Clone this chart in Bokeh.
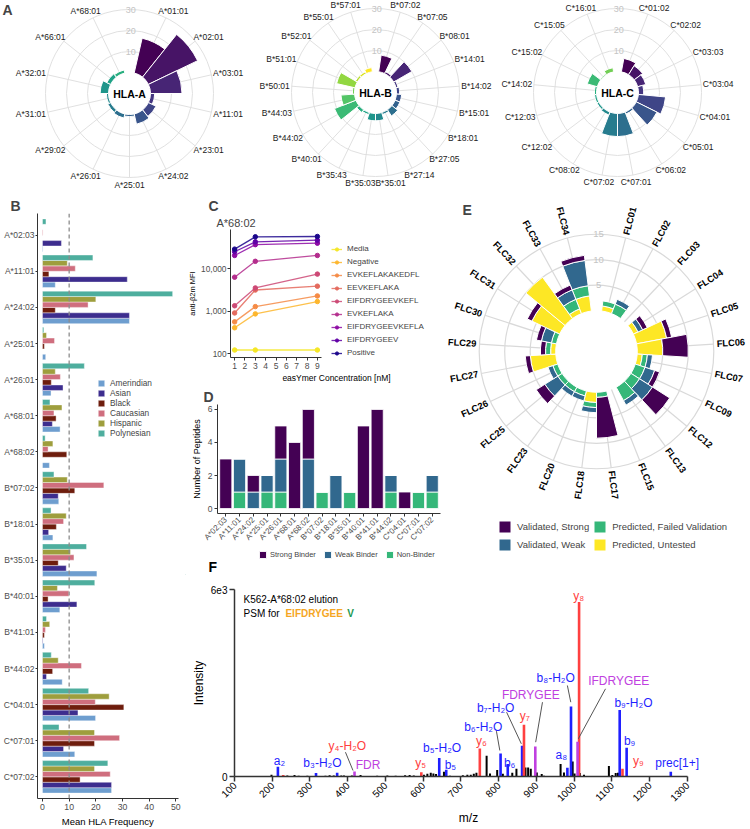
import math
from bokeh.plotting import figure
from bokeh.layouts import row, column
from bokeh.models import (Range1d, Label, Span, Legend, LegendItem, FixedTicker, Title,
                          NumeralTickFormatter, ColumnDataSource)
from bokeh.embed import file_html
from bokeh.resources import INLINE
from bokeh.core.properties import value
from bokeh.palettes import viridis, Plasma256

FONT = "Liberation Sans"

# ---------------- Panel A data ----------------
hla_a_alleles = ["A*01:01", "A*02:01", "A*03:01", "A*11:01", "A*23:01", "A*24:02", "A*25:01",
                 "A*26:01", "A*29:02", "A*31:01", "A*32:01", "A*66:01", "A*68:01"]
hla_a_freq = [17, 26, 15, 2, 4, 5, 1, 2, 1.5, 1, 4, 2, 1.5]
hla_b_alleles = ["B*07:02", "B*07:05", "B*08:01", "B*14:01", "B*14:02", "B*15:01", "B*18:01",
                 "B*27:05", "B*27:14", "B*35:01", "B*35:03", "B*35:43", "B*40:01", "B*44:02",
                 "B*44:03", "B*50:01", "B*51:01", "B*52:01", "B*55:01", "B*57:01"]
hla_b_freq = [8, 1, 10, 1, 1.5, 2.5, 2.5, 3.5, 1, 3.5, 3.5, 1, 1.5, 11, 6.5, 1, 9, 1, 1, 2]
hla_c_alleles = ["C*01:02", "C*02:02", "C*03:03", "C*03:04", "C*04:01", "C*05:01", "C*06:02",
                 "C*07:01", "C*07:02", "C*08:02", "C*12:02", "C*12:03", "C*14:02", "C*15:02",
                 "C*15:05", "C*16:01"]
hla_c_freq = [6.5, 5, 4, 2.5, 13, 11, 1, 11, 11, 1.5, 1, 1, 1, 5, 0.5, 2]
a_ring_values = [10, 20, 30]

# ---------------- Panel B data ----------------
b_alleles = ["A*02:03", "A*11:01", "A*24:02", "A*25:01", "A*26:01", "A*68:01", "A*68:02",
             "B*07:02", "B*18:01", "B*35:01", "B*40:01", "B*41:01", "B*44:02", "C*04:01",
             "C*07:01", "C*07:02"]
b_amerindian = [0.2, 4.8, 32.6, 1.2, 3.2, 6.6, 2.6, 6.1, 3.9, 20.4, 6.5, 0.7, 7.4, 19.9, 12.1, 25.9]
b_asian = [7.1, 31.8, 32.6, 0.0, 7.7, 3.7, 0.0, 5.9, 2.3, 8.9, 12.9, 0.2, 1.5, 13.3, 7.9, 25.9]
b_black = [0.0, 2.4, 4.8, 0.7, 3.3, 5.1, 9.1, 12.1, 5.2, 5.9, 2.1, 0.7, 3.8, 30.5, 19.5, 14.1]
b_caucasian = [0.2, 12.3, 17.1, 4.5, 6.7, 4.3, 2.1, 23.0, 7.9, 11.8, 9.9, 1.1, 14.6, 19.8, 28.9, 25.4]
b_hispanic = [0.0, 9.3, 20.0, 1.5, 4.8, 7.3, 3.9, 9.3, 8.9, 10.5, 5.6, 2.7, 5.9, 25.0, 19.5, 19.5]
b_polynesian = [1.3, 18.9, 48.8, 0.5, 15.7, 2.8, 1.0, 4.3, 3.2, 16.5, 19.6, 1.5, 3.3, 17.3, 6.2, 24.5]
b_populations = ["Amerindian", "Asian", "Black", "Caucasian", "Hispanic", "Polynesian"]
b_colors = ["#6699CC", "#332288", "#661100", "#CC6677", "#999933", "#44AA99"]
b_threshold = 10
b_xticks = [0, 10, 20, 30, 40, 50]

# ---------------- Panel C data ----------------
c_conc = [1, 3, 9]
c_series = ["Media", "Negative", "EVKEFLAKAKEDFL", "EEVKEFLAKA", "EIFDRYGEEVKEFL",
            "EVKEFLAKA", "EIFDRYGEEVKEFLA", "EIFDRYGEEV", "Positive"]
c_media = [123, 123, 123]
c_negative = [410, 870, 1700]
c_evkeflakakedfl = [565, 1290, 2300]
c_eevkeflaka = [915, 3170, 3900]
c_eifdrygeevkefl = [1350, 3540, 7500]
c_evkeflaka = [6350, 15000, 20600]
c_eifdrygeevkefla = [20600, 37000, 40000]
c_eifdrygeev = [25200, 43000, 47000]
c_positive = [29000, 56500, 57500]
c_values = [c_media, c_negative, c_evkeflakakedfl, c_eevkeflaka, c_eifdrygeevkefl,
            c_evkeflaka, c_eifdrygeevkefla, c_eifdrygeev, c_positive]

# ---------------- Panel D data ----------------
d_alleles = b_alleles
d_non_binder = [0, 1, 0, 1, 1, 0, 0, 1, 0, 1, 0, 0, 1, 0, 1, 1]
d_weak_binder = [0, 2, 1, 1, 2, 0, 3, 0, 2, 0, 0, 0, 1, 0, 0, 1]
d_strong_binder = [3, 0, 1, 0, 2, 4, 3, 0, 0, 0, 5, 6, 0, 1, 0, 0]

# ---------------- Panel E data ----------------
e_flc = ["FLC01", "FLC02", "FLC03", "FLC04", "FLC05", "FLC06", "FLC07", "FLC09", "FLC12",
         "FLC13", "FLC15", "FLC17", "FLC18", "FLC20", "FLC23", "FLC25", "FLC26", "FLC27",
         "FLC29", "FLC30", "FLC31", "FLC32", "FLC33", "FLC34"]
e_pred_untested = [1, 0, 0, 1, 6, 5, 1, 0, 0, 0, 0, 0, 2, 0, 0, 0, 0, 5, 1, 0, 6, 10, 1, 3]
e_pred_failed = [1, 2, 0, 0, 0, 0, 1, 2, 2, 3, 0, 1, 1, 1, 1, 1, 1, 0, 1, 1, 0, 0, 2, 2]
e_val_weak = [0, 1, 0, 1, 0, 0, 1, 2, 3, 1, 0, 0, 1, 1, 1, 3, 1, 0, 0, 2, 0, 0, 2, 5]
e_val_strong = [0, 0, 0, 1, 1, 5, 0, 1, 4, 0, 0, 8, 0, 0, 0, 2, 0, 1, 1, 1, 1, 0, 1, 1]
e_ring_values = [5, 10, 15]

# ---------------- Panel F data ----------------
f_noise_mz = [198, 240, 259, 270, 293, 319, 341, 352, 363, 383, 390, 399, 411, 434, 452, 478,
              505, 527, 552, 564, 575, 602, 611, 620, 627, 634, 655, 671, 690, 705, 717, 726,
              734, 741, 768, 777, 796, 811, 836, 847, 871, 878, 885, 901, 914, 920, 964, 973,
              996, 1001, 1015, 1026, 1079, 1092, 1101, 1110, 1116, 1185, 1238]
f_noise_int = [55, 30, 45, 25, 25, 20, 25, 40, 30, 35, 30, 20, 35, 45, 20, 25, 35, 25, 40, 45,
               30, 55, 90, 120, 95, 80, 150, 25, 20, 40, 55, 60, 90, 120, 665, 95, 210, 85, 120,
               250, 290, 290, 250, 130, 80, 25, 400, 130, 480, 100, 110, 60, 20, 340, 50, 110,
               120, 15, 15]
f_ion_mz = [215, 229, 316, 372, 418, 595, 642.5, 661, 750, 805, 824, 862, 867, 897, 982, 991.6,
            1013, 1009, 1120.6, 1139, 1128, 1256]
f_ion_int = [310, 50, 110, 120, 160, 140, 590, 215, 900, 740, 400, 990, 1660, 965, 280, 2250,
             5600, 1115, 2135, 920, 250, 150]
f_ion_type = ["b", "y", "b", "b", "i", "y", "b", "b", "y", "b", "b", "b", "y", "i", "b", "b",
              "y", "i", "b", "b", "y", "b"]
f_ann_text = ["a₂", "b₃-H₂O", "y₄-H₂O", "FDR", "y₅", "b₅-H₂O", "b₅", "y₆", "b₆-H₂O", "b₆",
              "b₇-H₂O", "y₇", "FDRYGEE", "a₈", "b₈-H₂O", "y₈", "IFDRYGEE", "b₉-H₂O", "b₉", "y₉",
              "prec[1+]"]
f_ann_mz = [219, 333, 399, 454, 593, 650, 672, 754, 759, 829, 792, 869, 885, 966, 951, 1012,
            1118, 1157, 1147, 1170, 1273]
f_ann_int = [490, 427, 972, 385, 427, 908, 353, 1123, 1604, 427, 2192, 1935, 2599, 674, 3145,
             5776, 3058, 2352, 1133, 513, 427]
f_ann_type = ["b", "b", "y", "i", "y", "b", "b", "y", "b", "b", "b", "y", "i", "b", "b", "y",
              "i", "b", "b", "y", "b"]
f_lead_mz0 = [394, 794, 821, 916, 982, 1083]
f_lead_int0 = [780, 1454, 2063, 2384, 2920, 2814]
f_lead_mz1 = [414, 803, 860, 898, 991, 1011]
f_lead_int1 = [193, 834, 1049, 1101, 2384, 1210]
f_xticks = list(range(100, 1301, 100))
ion_colors = {"b": "#1F1FFF", "y": "#FF4040", "i": "#C040E0"}

VIR = viridis(20)
STRONG, WEAK, FAILED, UNTESTED = "#440154", "#31688E", "#35B779", "#FDE725"


def text_w(s, fs):
    w = 0.0
    for ch in s:
        if ch.isdigit():
            w += 0.556
        elif ch in ":,.":
            w += 0.278
        elif ch == "*":
            w += 0.389
        elif ch == "-":
            w += 0.333
        else:
            w += 0.667
    return w * fs


def bare_fig(W, H, xr, yr):
    p = figure(width=W, height=H, x_range=xr, y_range=yr, output_backend="svg",
               toolbar_location=None, x_axis_location=None, y_axis_location=None,
               min_border=0, frame_align=False, title=None)
    p.grid.visible = False
    p.outline_line_color = None
    return p


def polar_fig(W, H, cx, cy, S):
    return bare_fig(W, H, Range1d(-cx / S, (W - cx) / S), Range1d(-(H - cy) / S, cy / S))


def hla_polar(alleles, freqs, name, W, cx, cy, letter=None):
    H, S, hole, rmax = 195, 2.1, 10.0, 30
    p = polar_fig(W, H, cx, cy, S)
    n = len(alleles)
    slot = 2 * math.pi / (n + 1)
    th = [(k + 1) * slot for k in range(n)]
    p.circle(x=[0] * 3, y=[0] * 3, radius=[hole + v for v in a_ring_values],
             fill_color=None, line_color="#DCDCDC", line_width=0.9)
    p.segment(x0=[hole * math.sin(t) for t in th], y0=[hole * math.cos(t) for t in th],
              x1=[(hole + rmax) * math.sin(t) for t in th],
              y1=[(hole + rmax) * math.cos(t) for t in th], line_color="#DCDCDC", line_width=0.9)
    p.annular_wedge(x=0, y=0, inner_radius=hole, outer_radius=[hole + f for f in freqs],
                    start_angle=[math.pi / 2 - (t + slot / 2) for t in th],
                    end_angle=[math.pi / 2 - (t - slot / 2) for t in th],
                    fill_color=VIR[:n], line_color="white", line_width=1)
    p.text(x=[0.6] * 3, y=[hole + v for v in a_ring_values], text=[str(v) for v in a_ring_values],
           text_color="#C4C4C4", text_font=value(FONT), text_font_size="9px",
           text_align="center", text_baseline="middle")
    fs = 8.5
    R = hole + rmax + 2 / S
    lx, ly = [], []
    for a, t in zip(alleles, th):
        w = text_w(a, fs)
        lx.append(R * math.sin(t) + math.sin(t) * w / 2 / S)
        ly.append(R * math.cos(t) + math.cos(t) * fs * 0.6 / S)
    p.text(x=lx, y=ly, text=alleles, text_color="#1A1A1A", text_font=value(FONT),
           text_font_size="8.5px", text_align="center", text_baseline="middle")
    p.text(x=[0], y=[0], text=[name], text_color="#000000", text_font=value(FONT),
           text_font_size="10.5px", text_font_style="bold", text_align="center",
           text_baseline="middle")
    if letter:
        p.add_layout(Label(x=2, y=H - 1, x_units="screen", y_units="screen", text=letter,
                           text_font=FONT, text_font_size="14px", text_font_style="bold",
                           text_baseline="top"))
    return p


def style_axis(ax, fs_tick="8.5px", fs_label="9px"):
    ax.major_label_text_font = FONT
    ax.major_label_text_font_size = fs_tick
    ax.major_label_text_color = "#4D4D4D"
    ax.axis_label_text_font = FONT
    ax.axis_label_text_font_size = fs_label
    ax.axis_label_text_font_style = "normal"
    ax.axis_label_text_color = "#000000"
    ax.axis_line_color = "#333333"
    ax.major_tick_line_color = "#333333"
    ax.major_tick_in = 0
    ax.major_tick_out = 3
    ax.minor_tick_line_color = None
    ax.major_label_standoff = 2
    ax.axis_label_standoff = 3


def letter_title(p, t, offset):
    p.add_layout(Title(text=t, text_font=FONT, text_font_size="14px", text_font_style="bold",
                       align="left", offset=offset, standoff=0), "above")


# ---------------- Panel A ----------------
pa1 = hla_polar(hla_a_alleles, hla_a_freq, "HLA-A", 250, 129, 93, letter="A")
pa2 = hla_polar(hla_b_alleles, hla_b_freq, "HLA-B", 250, 125, 92)
pa3 = hla_polar(hla_c_alleles, hla_c_freq, "HLA-C", 250, 117, 92)

# ---------------- Panel B ----------------
pb = figure(width=185, height=634, x_range=Range1d(-1.87, 51.0), y_range=Range1d(0.4, 16.6),
            output_backend="svg", toolbar_location=None, min_border_left=37,
            min_border_right=7, min_border_top=13, min_border_bottom=26, frame_align=False,
            title=None)
pb.grid.visible = False
pb.outline_line_color = None
nb = len(b_alleles)
ypos = [nb - i for i in range(nb)]
b_series = [b_amerindian, b_asian, b_black, b_caucasian, b_hispanic, b_polynesian]
b_items = []
for j, (nm, vals, col) in enumerate(zip(b_populations, b_series, b_colors)):
    off = -0.45 + 0.075 + 0.15 * j
    r = pb.hbar(y=[y + off for y in ypos], left=0, right=vals, height=0.15, fill_color=col,
                fill_alpha=0.95, line_color="white", line_width=0.4)
    b_items.append(LegendItem(label=nm, renderers=[r]))
pb.add_layout(Span(location=b_threshold, dimension="height", line_color="#8C8C8C",
                   line_dash="4 3", line_width=1.3))
style_axis(pb.xaxis[0], "8.7px", "9.5px")
style_axis(pb.yaxis[0], "8.5px", "9px")
pb.yaxis.major_tick_out = 2
pb.yaxis.major_label_standoff = 1
pb.xaxis.ticker = FixedTicker(ticks=b_xticks)
pb.xaxis.axis_label = "Mean HLA Frequency"
pb.yaxis.ticker = FixedTicker(ticks=ypos)
pb.yaxis.major_label_overrides = {y: a for y, a in zip(ypos, b_alleles)}
leg_b = Legend(items=b_items, location=(60, 360), glyph_width=8, glyph_height=8,
               label_height=8, label_text_font=FONT, label_text_font_size="8.3px",
               spacing=0, padding=0, margin=0, label_standoff=5,
               background_fill_alpha=0, border_line_color=None)
pb.add_layout(leg_b)
letter_title(pb, "B", -27)

# ---------------- Panel C ----------------
pc = figure(width=257, height=190, x_range=Range1d(0.6, 21.1), y_range=Range1d(82, 84000),
            y_axis_type="log", output_backend="svg", toolbar_location=None,
            min_border_left=38, min_border_right=0, min_border_top=25, min_border_bottom=28,
            frame_align=False, title=None)
pc.grid.visible = False
pc.outline_line_color = None
c_colors = [Plasma256[i] for i in [245, 215, 185, 158, 130, 105, 75, 45, 5]]
c_items = []
for nm, vals, col in zip(c_series, c_values, c_colors):
    l = pc.line(x=c_conc, y=vals, line_color=col, line_width=1.3, line_alpha=0.85)
    s = pc.scatter(x=c_conc, y=vals, size=4.5, fill_color=col, line_color=col)
    c_items.append(LegendItem(label=nm, renderers=[l, s]))
style_axis(pc.xaxis[0], "8.5px", "8.5px")
style_axis(pc.yaxis[0], "8.3px", "7.5px")
pc.xaxis.bounds = (0.6, 9.4)
pc.xaxis.ticker = FixedTicker(ticks=list(range(1, 10)))
pc.xaxis.axis_label = "easYmer Concentration [nM]"
pc.xaxis.axis_label_standoff = 1
pc.yaxis.ticker = FixedTicker(ticks=[100, 1000, 10000])
pc.yaxis.formatter = NumeralTickFormatter(format="0,0")
pc.yaxis.axis_label = "anti-β2m MFI"
pc.yaxis.axis_label_standoff = 1
pc.yaxis.major_label_standoff = 1
leg_c = Legend(items=c_items, location=(101, 0), glyph_width=11, glyph_height=8,
               label_height=8, label_text_font=FONT, label_text_font_size="8px",
               spacing=4, padding=0, margin=0, label_standoff=5,
               background_fill_alpha=0, border_line_color=None)
pc.add_layout(leg_c)
pc.add_layout(Title(text="A*68:02", text_font=FONT, text_font_size="11px",
                    text_font_style="normal", align="left", offset=-14, standoff=2), "above")
letter_title(pc, "C", -22)

# ---------------- Panel D ----------------
pdd = figure(width=257, height=163, x_range=Range1d(0.4, 16.6), y_range=Range1d(-0.3, 6.3),
             output_backend="svg", toolbar_location=None, min_border_left=32,
             min_border_right=2, min_border_top=19, min_border_bottom=34, frame_align=False,
             title=None)
pdd.grid.visible = False
pdd.outline_line_color = None
d_x = list(range(1, len(d_alleles) + 1))
d_src = ColumnDataSource(dict(x=d_x, non=d_non_binder, weak=d_weak_binder, strong=d_strong_binder))
pdd.vbar_stack(["non", "weak", "strong"], x="x", width=0.88, color=[FAILED, WEAK, STRONG],
               line_color="white", line_width=0.8, source=d_src)
style_axis(pdd.xaxis[0], "8px", "9px")
style_axis(pdd.yaxis[0], "8.5px", "9px")
pdd.xaxis.ticker = FixedTicker(ticks=d_x)
pdd.xaxis.major_label_overrides = {x: a for x, a in zip(d_x, d_alleles)}
pdd.xaxis.major_label_orientation = math.pi / 4
pdd.yaxis.ticker = FixedTicker(ticks=[0, 2, 4, 6])
pdd.yaxis.axis_label = "Number of Peptides"
letter_title(pdd, "D", -14)

# strip under panel D: binder legend and the letter of panel F
STRIP_W, STRIP_H = 257, 27
pdl = bare_fig(STRIP_W, STRIP_H, Range1d(0, STRIP_W), Range1d(0, STRIP_H))
d_keys = []
for nm, col in [("Strong Binder", STRONG), ("Weak Binder", WEAK), ("Non-Binder", FAILED)]:
    rk = pdl.vbar(x=[-50], top=[1], width=1, fill_color=col, line_color="white")
    d_keys.append(LegendItem(label=nm, renderers=[rk]))
leg_d = Legend(items=d_keys, orientation="horizontal", location=(73, 16), glyph_width=9,
               glyph_height=9, label_height=9, label_text_font=FONT,
               label_text_font_size="7.5px", spacing=7, padding=0, margin=0,
               label_standoff=3, background_fill_alpha=0, border_line_color=None)
pdl.add_layout(leg_d)
pdl.text(x=[23], y=[9], text=["F"], text_font=value(FONT), text_font_size="14px",
         text_font_style="bold", text_color="#000000", text_align="left",
         text_baseline="middle")

# ---------------- Panel E ----------------
EW, EH, ECX, ECY, ES, EHOLE = 308, 380, 154, 156, 5.1, 8.0
pe = polar_fig(EW, EH, ECX, ECY, ES)
ne = len(e_flc)
eslot = 2 * math.pi / (ne + 1)
eth = [(k + 1) * eslot for k in range(ne)]
pe.circle(x=[0] * 3, y=[0] * 3, radius=[EHOLE + v for v in e_ring_values], fill_color=None,
          line_color="#D9D9D9", line_width=1.2)
pe.segment(x0=[EHOLE * math.sin(t) for t in eth], y0=[EHOLE * math.cos(t) for t in eth],
           x1=[(EHOLE + 15) * math.sin(t) for t in eth], y1=[(EHOLE + 15) * math.cos(t) for t in eth],
           line_color="#D9D9D9", line_width=1.2)
e_stack = [("Predicted, Untested", e_pred_untested, UNTESTED),
           ("Predicted, Failed Validation", e_pred_failed, FAILED),
           ("Validated, Weak", e_val_weak, WEAK),
           ("Validated, Strong", e_val_strong, STRONG)]
cum = [0.0] * ne
e_rend = {}
for nm, vals, col in e_stack:
    idx = [i for i in range(ne) if vals[i] > 0]
    inner = [EHOLE + cum[i] for i in idx]
    outer = [EHOLE + cum[i] + vals[i] for i in idx]
    r = pe.annular_wedge(x=0, y=0, inner_radius=inner, outer_radius=outer,
                         start_angle=[math.pi / 2 - (eth[i] + eslot / 2) for i in idx],
                         end_angle=[math.pi / 2 - (eth[i] - eslot / 2) for i in idx],
                         fill_color=col, line_color="white", line_width=1)
    e_rend[nm] = r
    for i in range(ne):
        cum[i] += vals[i]
pe.text(x=[0.4] * 3, y=[EHOLE + v for v in e_ring_values], text=[str(v) for v in e_ring_values],
        text_color="#C4C4C4", text_font=value(FONT), text_font_size="9.5px",
        text_align="center", text_baseline="middle")
ER = 26.4
e_ang = []
for t in eth:
    d = math.degrees(t)
    e_ang.append(math.radians(90 - d) if d < 180 else math.radians(270 - d))
pe.text(x=[ER * math.sin(t) for t in eth], y=[ER * math.cos(t) for t in eth], text=e_flc,
        angle=e_ang, text_color="#000000", text_font=value(FONT), text_font_size="9.3px",
        text_font_style="bold", text_align="center", text_baseline="middle")
leg_e = Legend(items=[LegendItem(label="Validated, Strong", renderers=[e_rend["Validated, Strong"]]),
                      LegendItem(label="Validated, Weak", renderers=[e_rend["Validated, Weak"]]),
                      LegendItem(label="Predicted, Failed Validation",
                                 renderers=[e_rend["Predicted, Failed Validation"]]),
                      LegendItem(label="Predicted, Untested",
                                 renderers=[e_rend["Predicted, Untested"]])],
               location=(55, 23), orientation="vertical", ncols=2, glyph_width=15,
               glyph_height=15, label_height=15, label_text_font=FONT,
               label_text_font_size="9.5px", spacing=3, padding=0, margin=0,
               label_standoff=5, background_fill_alpha=0, border_line_color=None)
pe.add_layout(leg_e)
pe.add_layout(Label(x=20, y=EH - 6, x_units="screen", y_units="screen", text="E", text_font=FONT,
                    text_font_size="14px", text_font_style="bold", text_baseline="top"))

# ---------------- Panel F ----------------
pf = figure(width=565, height=254, x_range=Range1d(100, 1340), y_range=Range1d(0, 6000),
            output_backend="svg", toolbar_location=None, min_border_left=49,
            min_border_right=48, min_border_top=14, min_border_bottom=53, frame_align=False,
            title=None)
pf.grid.visible = False
pf.outline_line_color = None
pf.segment(x0=f_noise_mz, y0=0, x1=f_noise_mz, y1=f_noise_int, line_color="#000000",
           line_width=2)
pf.segment(x0=f_ion_mz, y0=0, x1=f_ion_mz, y1=f_ion_int,
           line_color=[ion_colors[t] for t in f_ion_type], line_width=2.6)
pf.segment(x0=f_lead_mz0, y0=f_lead_int0, x1=f_lead_mz1, y1=f_lead_int1, line_color="#555555",
           line_width=1)
pf.text(x=f_ann_mz, y=f_ann_int, text=f_ann_text, text_color=[ion_colors[t] for t in f_ann_type],
        text_font=value(FONT), text_font_size="12px", text_align="center",
        text_baseline="middle")
pf.text(x=[124], y=[5680], text=["K562-A*68:02 elution"], text_color="#000000",
        text_font=value(FONT), text_font_size="10px", text_baseline="middle")
pf.text(x=[124], y=[5240], text=["PSM for"], text_color="#000000",
        text_font=value(FONT), text_font_size="10px", text_baseline="middle")
pf.text(x=[235], y=[5240], text=["EIFDRYGEE"], text_color="#F5A623", text_font=value(FONT),
        text_font_size="10px", text_font_style="bold", text_baseline="middle")
pf.text(x=[399], y=[5240], text=["V"], text_color="#1A9850", text_font=value(FONT),
        text_font_size="10px", text_font_style="bold", text_baseline="middle")
style_axis(pf.xaxis[0], "10px", "12px")
style_axis(pf.yaxis[0], "10px", "12px")
pf.xaxis.bounds = (100, 1300)
pf.xaxis.axis_line_width = 1.5
pf.yaxis.axis_line_width = 1.5
pf.xaxis.major_tick_line_width = 1.5
pf.yaxis.major_tick_line_width = 1.5
pf.xaxis.major_tick_out = 5
pf.yaxis.major_tick_out = 5
pf.yaxis.axis_label_standoff = 2
pf.xaxis.major_label_text_color = "#000000"
pf.yaxis.major_label_text_color = "#000000"
pf.xaxis.ticker = FixedTicker(ticks=f_xticks)
pf.xaxis.major_label_orientation = math.pi / 4
pf.xaxis.axis_label = "m/z"
pf.yaxis.ticker = FixedTicker(ticks=[0, 6000])
pf.yaxis.major_label_overrides = {0: "0", 6000: "6e3"}
pf.yaxis.axis_label = "Intensity"

# ---------------- Layout ----------------
top = row(pa1, pa2, pa3)
mid = row(column(pc, pdd, pdl), pe)
right = column(mid, pf)
layout = column(top, row(pb, right))

open("out.html", "w").write(file_html(layout, INLINE))
